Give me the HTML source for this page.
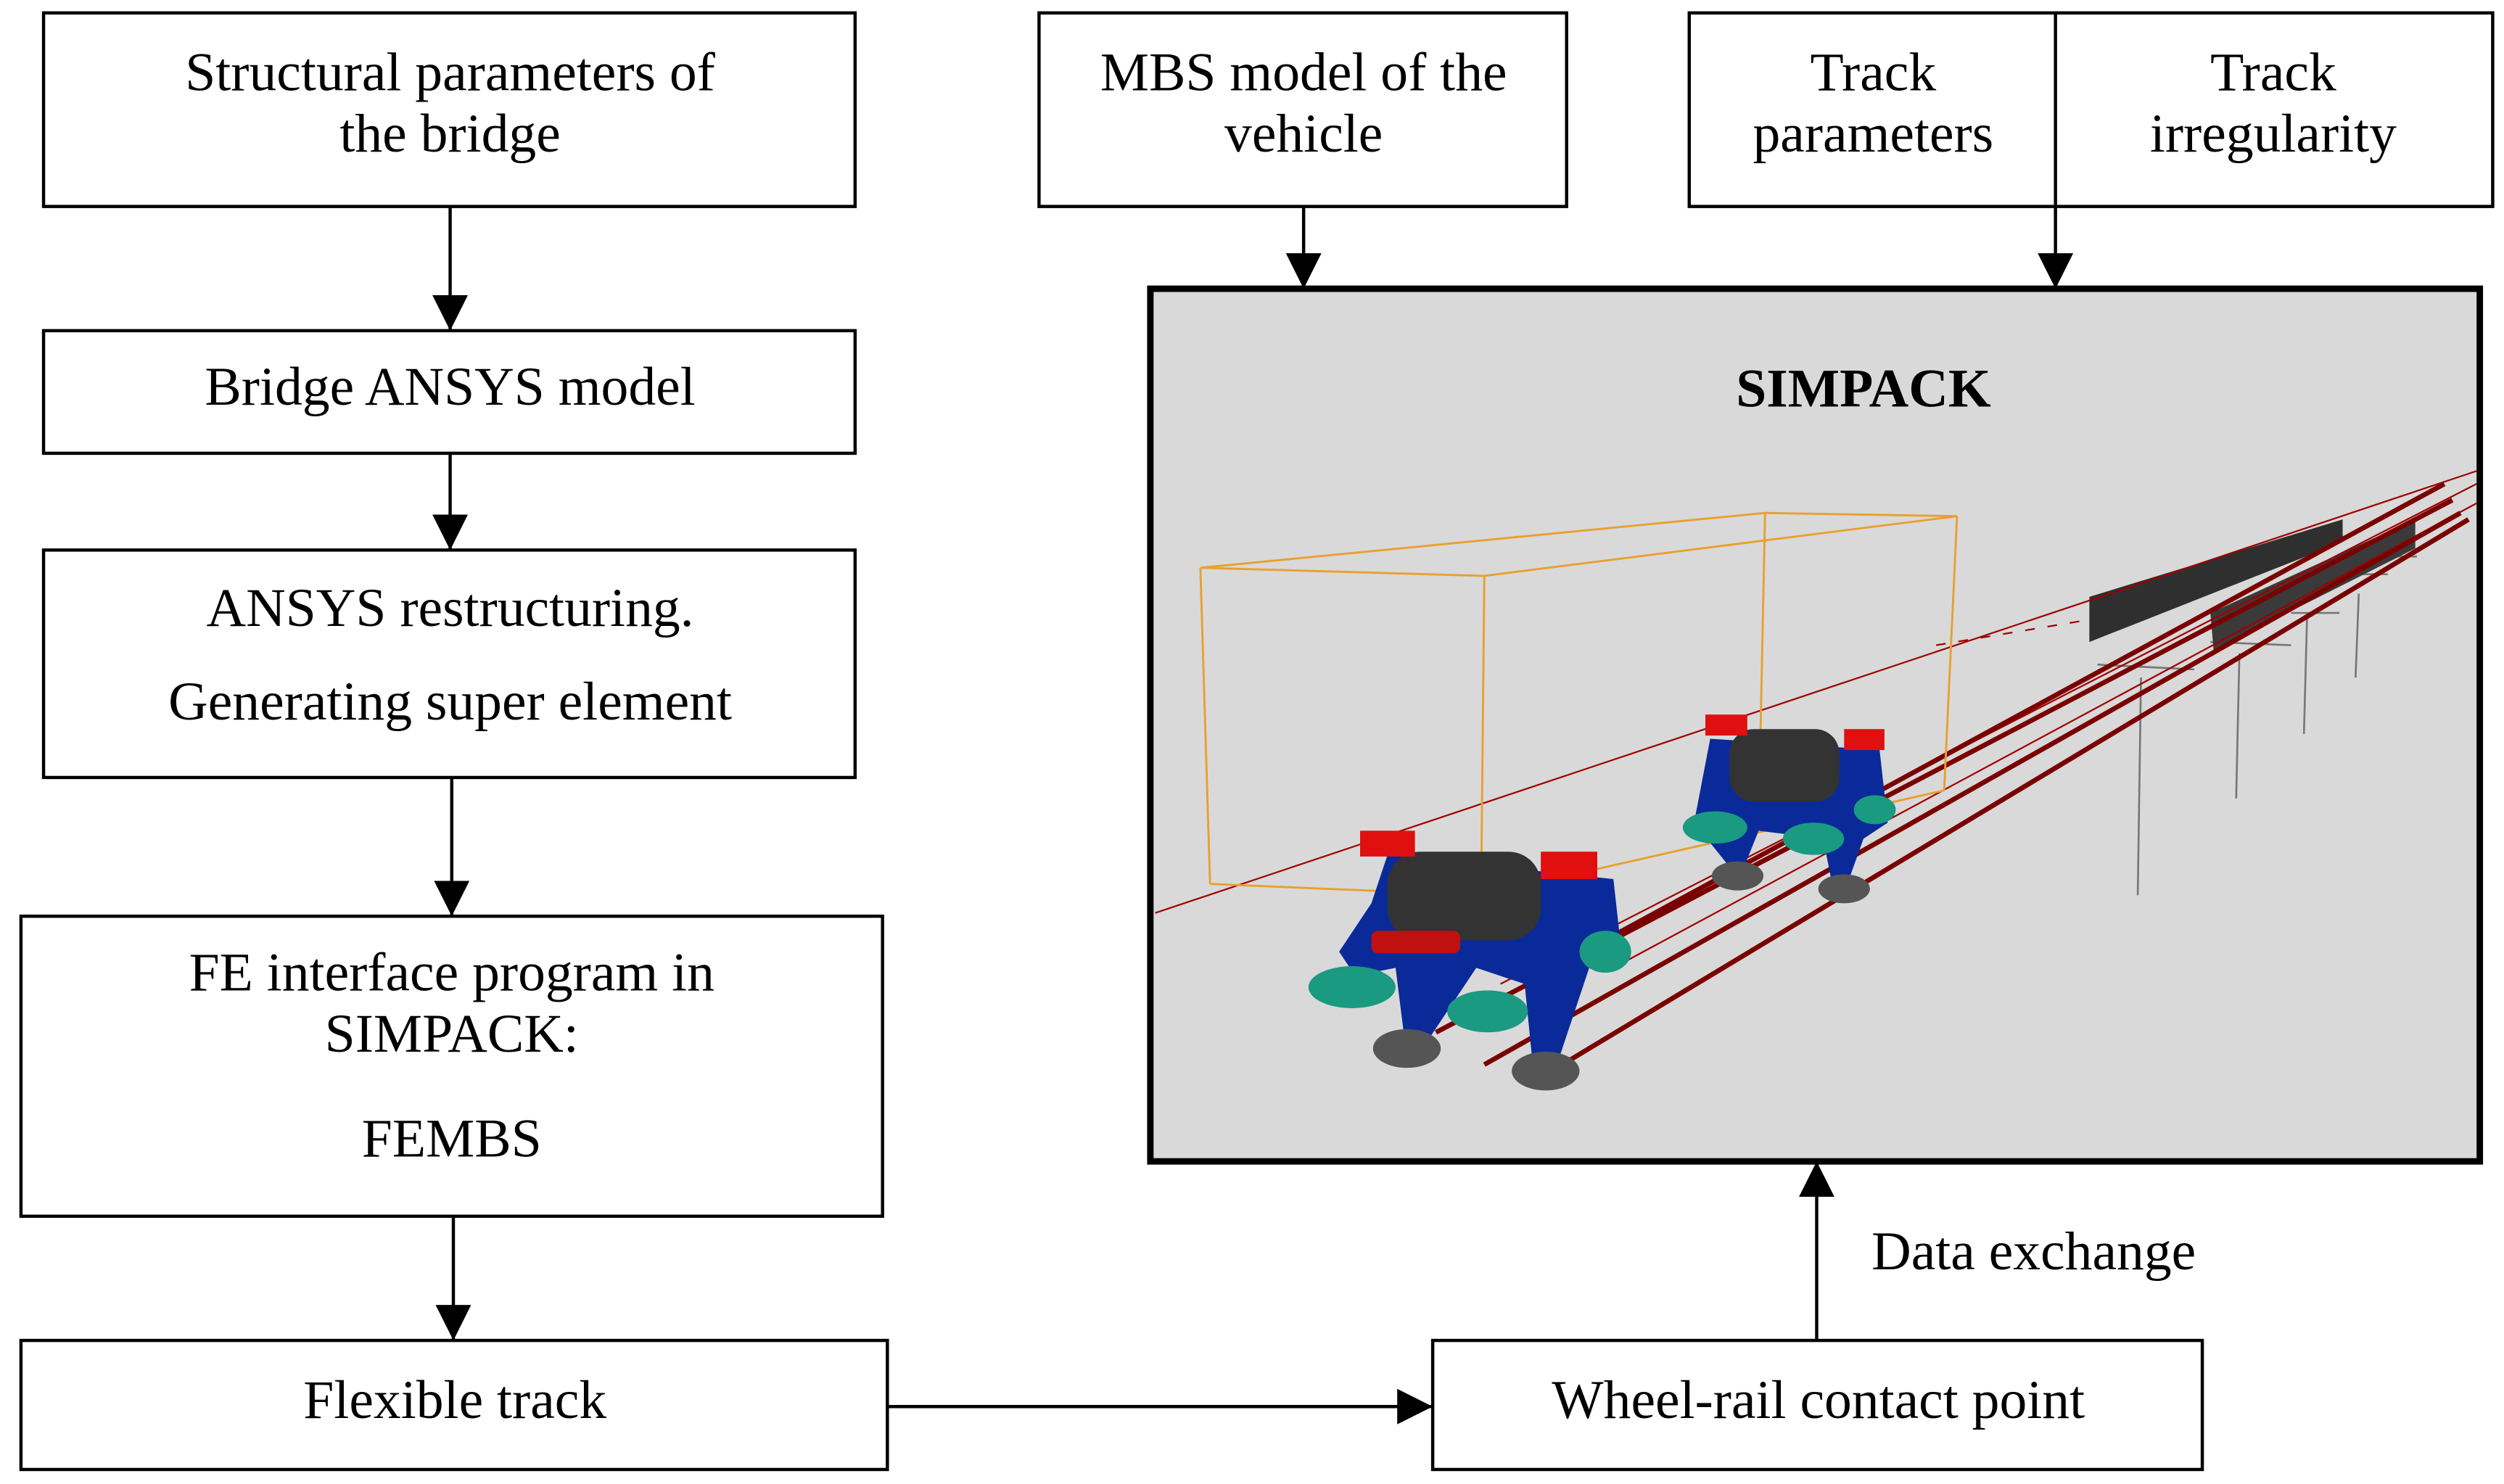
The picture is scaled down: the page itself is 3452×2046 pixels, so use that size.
<!DOCTYPE html>
<html><head><meta charset="utf-8"><style>html,body{margin:0;padding:0;background:#fff}svg{display:block}</style></head>
<body>
<svg width="3452" height="2046" viewBox="0 0 1552 920" preserveAspectRatio="none" xmlns="http://www.w3.org/2000/svg" font-family="Liberation Serif, serif" font-size="34">
<defs><marker id="b" markerWidth="22" markerHeight="22" refX="22" refY="11" orient="auto" markerUnits="userSpaceOnUse"><path d="M0,0 L22,11 L0,22 z" fill="#000"/></marker></defs>
<g fill="#fff" stroke="#000" stroke-width="2">
<rect x="27" y="8" width="503" height="120"/>
<rect x="27" y="205" width="503" height="76"/>
<rect x="27" y="341" width="503" height="141"/>
<rect x="13" y="568" width="534" height="186"/>
<rect x="13" y="831" width="537" height="80"/>
<rect x="888" y="831" width="477" height="80"/>
<rect x="644" y="8" width="327" height="120"/>
<rect x="1047" y="8" width="498" height="120"/>
<line x1="1274" y1="8" x2="1274" y2="128"/>
</g>
<rect x="713" y="179" width="824" height="541" fill="#d9d9d9" stroke="#000" stroke-width="4"/>
<g stroke="#000" stroke-width="2" fill="none" marker-end="url(#b)">
<line x1="279" y1="128" x2="279" y2="205"/>
<line x1="279" y1="281" x2="279" y2="341"/>
<line x1="280" y1="482" x2="280" y2="568"/>
<line x1="281" y1="754" x2="281" y2="831"/>
<line x1="550" y1="872" x2="888" y2="872"/>
<line x1="1126" y1="831" x2="1126" y2="720"/>
<line x1="808" y1="128" x2="808" y2="179"/>
<line x1="1274" y1="128" x2="1274" y2="179"/>
</g>
<g text-anchor="middle">
<text x="279" y="56">Structural parameters of</text>
<text x="279" y="94">the bridge</text>
<text x="279" y="251">Bridge ANSYS model</text>
<text x="279" y="388">ANSYS restructuring.</text>
<text x="279" y="446">Generating super element</text>
<text x="280" y="614">FE interface program in</text>
<text x="280" y="652">SIMPACK:</text>
<text x="280" y="717">FEMBS</text>
<text x="282" y="879">Flexible track</text>
<text x="1127" y="879">Wheel-rail contact point</text>
<text x="808" y="56">MBS model of the</text>
<text x="808" y="94">vehicle</text>
<text x="1161" y="56">Track</text>
<text x="1161" y="94">parameters</text>
<text x="1409" y="56">Track</text>
<text x="1409" y="94">irregularity</text>
<text x="1155" y="252" font-weight="bold">SIMPACK</text>
</g>
<text x="1160" y="787">Data exchange</text>
<g stroke="#777" stroke-width="1.2">
<line x1="1327" y1="420" x2="1325" y2="555"/><line x1="1388" y1="405" x2="1386" y2="495"/>
<line x1="1430" y1="380" x2="1428" y2="455"/><line x1="1462" y1="368" x2="1460" y2="420"/>
<line x1="1300" y1="412" x2="1360" y2="415"/><line x1="1370" y1="398" x2="1420" y2="400"/>
<line x1="1420" y1="380" x2="1450" y2="380"/><line x1="1460" y1="356" x2="1480" y2="356"/><line x1="1470" y1="345" x2="1498" y2="345"/>
</g>
<path d="M1295,370 L1452,322 L1452,336 L1295,398 z" fill="#2f2f2f"/>
<path d="M1370,380 L1497,322 L1497,340 L1372,403 z" fill="#3a3a3a"/>
<g stroke="#a00000" stroke-width="1" fill="none">
<line x1="716" y1="566" x2="1535" y2="292"/>
<line x1="1000" y1="600" x2="1535" y2="312"/>
<line x1="930" y1="610" x2="1535" y2="300"/>
<line x1="1200" y1="400" x2="1290" y2="385" stroke-dasharray="6,8"/>
</g>
<g stroke="#7a0000" stroke-width="3" fill="none">
<line x1="890" y1="640" x2="1520" y2="310"/>
<line x1="920" y1="660" x2="1525" y2="318"/>
<line x1="960" y1="665" x2="1530" y2="322"/>
<line x1="1000" y1="580" x2="1515" y2="300"/>
</g>
<g stroke="#e8a030" stroke-width="1.3" fill="none">
<path d="M744,352 L1094,318 L1213,320 L920,357 z"/>
<line x1="744" y1="352" x2="750" y2="548"/><line x1="920" y1="357" x2="918" y2="555"/>
<line x1="1213" y1="320" x2="1205" y2="490"/><line x1="1094" y1="318" x2="1091" y2="463"/>
<path d="M750,548 L918,555 L1205,490"/>
</g>
<g>
<path d="M830,590 L850,560 L860,530 L1000,545 L1005,590 L985,600 L965,660 L950,660 L945,610 L915,600 L885,645 L870,640 L865,600 L840,605 z" fill="#0a2a9a"/>
<rect x="860" y="528" width="95" height="55" rx="20" fill="#333"/>
<rect x="843" y="515" width="34" height="16" fill="#e01010"/>
<rect x="955" y="528" width="35" height="17" fill="#e01010"/>
<rect x="850" y="577" width="55" height="14" rx="4" fill="#c01010"/>
<ellipse cx="838" cy="612" rx="27" ry="13" fill="#1a9a80"/>
<ellipse cx="922" cy="627" rx="25" ry="13" fill="#1a9a80"/>
<ellipse cx="995" cy="590" rx="16" ry="13" fill="#1a9a80"/>
<ellipse cx="872" cy="650" rx="21" ry="12" fill="#555"/>
<ellipse cx="958" cy="664" rx="21" ry="12" fill="#555"/>
</g>
<g>
<path d="M1050,510 L1060,458 L1165,465 L1170,510 L1155,520 L1145,548 L1135,545 L1130,520 L1090,515 L1080,540 L1070,535 z" fill="#0a2a9a"/>
<rect x="1072" y="452" width="68" height="45" rx="15" fill="#333"/>
<rect x="1057" y="443" width="26" height="13" fill="#e01010"/>
<rect x="1143" y="452" width="25" height="13" fill="#e01010"/>
<ellipse cx="1063" cy="513" rx="20" ry="10" fill="#1a9a80"/>
<ellipse cx="1124" cy="520" rx="19" ry="10" fill="#1a9a80"/>
<ellipse cx="1162" cy="502" rx="13" ry="9" fill="#1a9a80"/>
<ellipse cx="1077" cy="543" rx="16" ry="9" fill="#555"/>
<ellipse cx="1143" cy="551" rx="16" ry="9" fill="#555"/>
</g>
</svg>
</body></html>
